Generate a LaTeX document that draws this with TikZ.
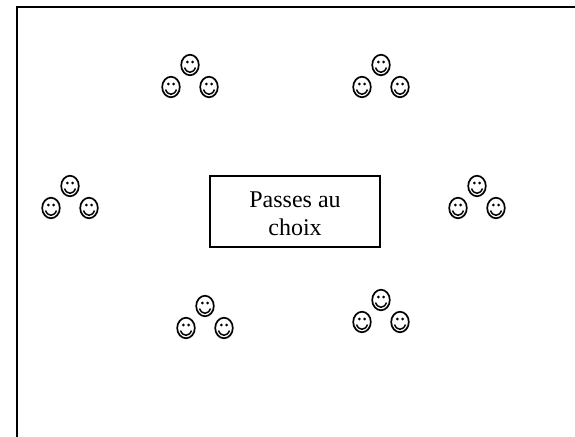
\documentclass[tikz,border=0pt]{standalone}
\usepackage{fontspec}
\setmainfont{Liberation Serif}
\usetikzlibrary{shapes.geometric}
\tikzset{
  smiley/.style={ellipse, draw, line width=1.7pt, minimum width=17.6pt, minimum height=20.5pt, inner sep=0pt,
    path picture={
      \fill ([shift={(-2.6pt,3pt)}]path picture bounding box.center) circle[radius=1.5pt];
      \fill ([shift={(2.6pt,3pt)}]path picture bounding box.center) circle[radius=1.5pt];
      \draw[line width=1.5pt] ([shift={(-5.5pt,-2.6pt)}]path picture bounding box.center)
        .. controls ([shift={(-3pt,-8.8pt)}]path picture bounding box.center) and ([shift={(3pt,-8.8pt)}]path picture bounding box.center)
        .. ([shift={(5.5pt,-2.6pt)}]path picture bounding box.center);
    }},
  framebox/.style={draw, line width=1.6pt, minimum width=170pt, minimum height=71pt, inner sep=0pt},
  labeltext/.style={font=\fontsize{24pt}{28pt}\selectfont, align=center, inner sep=0pt},
  frameline/.style={line width=2pt}
}
\newcommand{\smileygroup}[3]{%
  \node[smiley] (#1t) at (#2,#3) {};
  \node[smiley] (#1l) at (#2-19,#3+22) {};
  \node[smiley] (#1r) at (#2+19,#3+22) {};
}
\begin{document}
\begin{tikzpicture}[x=1pt,y=-1pt]
\useasboundingbox (0,0) rectangle (575,436);
\clip (0,0) rectangle (575,436);
\coordinate (fbl) at (16.5,440);
\coordinate (ftl) at (16.5,7.5);
\coordinate (ftr) at (580,7.5);
\draw[frameline] (fbl) -- (ftl) -- (ftr);
\smileygroup{a}{190}{65}
\smileygroup{b}{381}{65}
\smileygroup{c}{70}{186}
\smileygroup{d}{477}{186}
\smileygroup{e}{205}{306}
\smileygroup{f}{381}{300}
\node[framebox] (box) at (295,211.5) {};
\node[labeltext] (label) at ([yshift=-2.5pt]box.center) {Passes au\\choix};
\end{tikzpicture}
\end{document}
